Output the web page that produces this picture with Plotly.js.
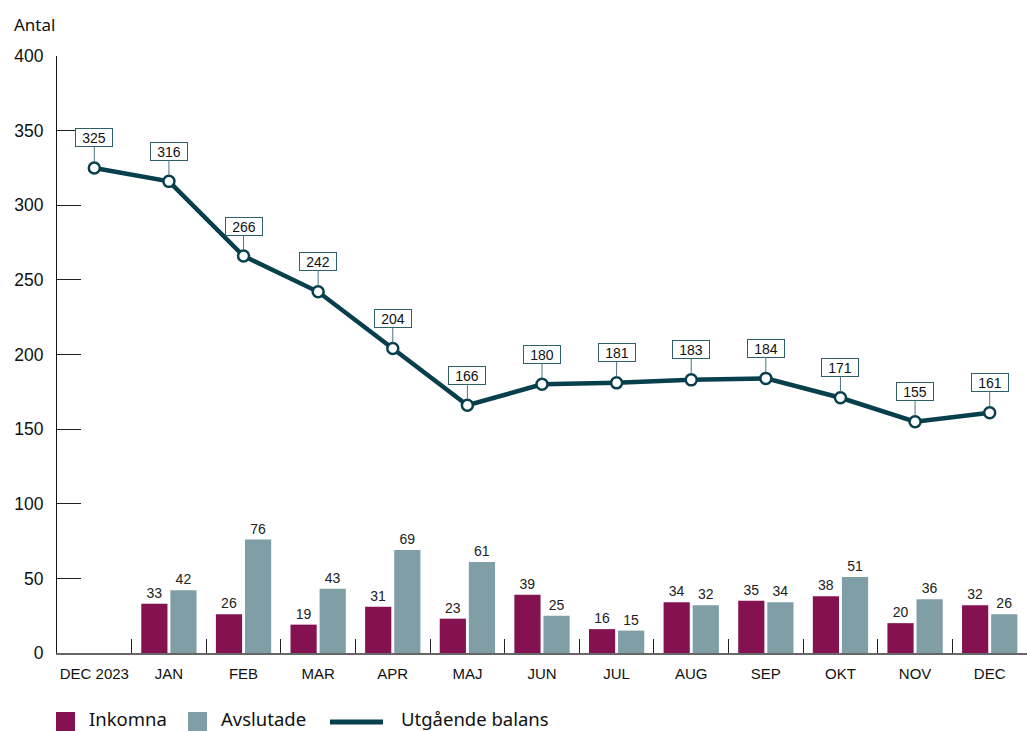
<!DOCTYPE html>
<html>
<head>
<meta charset="utf-8">
<script src="https://cdn.plot.ly/plotly-3.0.1.min.js"></script>
<style>html,body{margin:0;padding:0;background:#fff;}#chart{width:1027px;height:731px;}</style>
</head>
<body>
<div id="chart"></div>
<script>
var categories = ["DEC 2023","JAN","FEB","MAR","APR","MAJ","JUN","JUL","AUG","SEP","OKT","NOV","DEC"];
var inkomna = [null,33,26,19,31,23,39,16,34,35,38,20,32];
var avslutade = [null,42,76,43,69,61,25,15,32,34,51,36,26];
var balans = [325,316,266,242,204,166,180,181,183,184,171,155,161];
var yTicks = [0,50,100,150,200,250,300,350,400];
var legendNames = ["Inkomna","Avslutade","Utgående balans"];

var cPurple = "#841250", cGrey = "#7f9ea6", cLine = "#073f4c";
var numFont = "Liberation Sans, Arial, sans-serif";
var txtFont = "Noto Sans, Open Sans, sans-serif";

var traces = [
  {type:"bar", name:legendNames[0], x:categories, y:inkomna, marker:{color:cPurple},
   text:inkomna.map(function(v){return v==null?"":String(v);}), textposition:"outside",
   textfont:{family:numFont,size:14,color:"#222"}, cliponaxis:false, showlegend:false},
  {type:"bar", name:legendNames[1], x:categories, y:avslutade, marker:{color:cGrey},
   text:avslutade.map(function(v){return v==null?"":String(v);}), textposition:"outside",
   textfont:{family:numFont,size:14,color:"#222"}, cliponaxis:false, showlegend:false},
  {type:"scatter", mode:"lines+markers", name:legendNames[2], x:categories, y:balans,
   line:{color:cLine,width:4.5}, marker:{size:11,color:"#fff",line:{color:cLine,width:2.5}},
   cliponaxis:false, showlegend:false}
];

var annotations = balans.map(function(v,i){
  return {x:categories[i], y:v, xref:"x", yref:"y", text:String(v), showarrow:true,
    arrowhead:0, arrowwidth:1, arrowcolor:"#4d7580", ax:0, ay:-30, standoff:6,
    bgcolor:"#fff", bordercolor:"#2f5f6b", borderwidth:1, borderpad:1, width:34, height:15,
    font:{family:numFont,size:14,color:"#111"}};
});
annotations.push({xref:"paper", yref:"paper", x:0, y:1, xshift:-45, yshift:32, xanchor:"left", yanchor:"middle",
  text:"Antal", showarrow:false, font:{family:txtFont,size:17,color:"#111"}});

// custom legend
function px2x(p){return (p-57)/970;}
function py2y(p){return (653-p)/597;}
var shapes = [
  {type:"rect", xref:"paper", yref:"paper", x0:px2x(56), x1:px2x(75), y0:py2y(731), y1:py2y(712), fillcolor:cPurple, line:{width:0}},
  {type:"rect", xref:"paper", yref:"paper", x0:px2x(188), x1:px2x(207), y0:py2y(731), y1:py2y(712), fillcolor:cGrey, line:{width:0}},
  {type:"line", xref:"paper", yref:"paper", x0:px2x(330), x1:px2x(383), y0:py2y(722), y1:py2y(722), line:{color:cLine,width:5}}
];
var legX = [87,219,399];
legendNames.forEach(function(n,i){
  annotations.push({xref:"paper", yref:"paper", x:px2x(legX[i]), y:py2y(718), xanchor:"left", yanchor:"middle",
    text:n, showarrow:false, font:{family:txtFont,size:18.5,color:"#111"}});
});

var layout = {
  width:1027, height:731,
  margin:{l:57,r:0,t:56,b:78,autoexpand:false},
  paper_bgcolor:"#fff", plot_bgcolor:"#fff",
  barmode:"group", bargap:0.22, bargroupgap:0.1,
  showlegend:false,
  xaxis:{type:"category", range:[-0.5,12.5], showgrid:false, showline:true, linecolor:"#666", linewidth:2,
    ticks:"inside", tickson:"boundaries", ticklen:14, tickcolor:"#222", tickwidth:1, tickangle:0,
    tickfont:{family:numFont,size:15,color:"#111"}, ticklabelstandoff:6, fixedrange:true},
  yaxis:{range:[0,400], tickvals:yTicks, ticktext:yTicks.map(String), showgrid:false, zeroline:false,
    showline:true, linecolor:"#111", linewidth:1,
    ticks:"inside", ticklen:24, tickcolor:"#222", tickwidth:1,
    tickfont:{family:numFont,size:17.5,color:"#111"}, ticklabelstandoff:9, fixedrange:true},
  annotations:annotations,
  shapes:shapes
};
Plotly.newPlot("chart", traces, layout, {displayModeBar:false, staticPlot:true});
</script>
</body>
</html>
